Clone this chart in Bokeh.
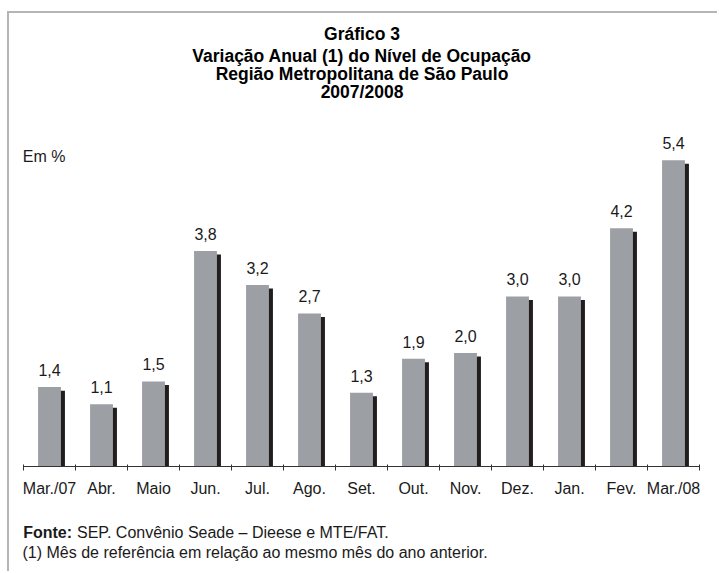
from bokeh.plotting import figure
from bokeh.layouts import column
from bokeh.models import Range1d, LinearAxis, FixedTicker, Label, ColumnDataSource
from bokeh.transform import dodge
from bokeh.embed import file_html
from bokeh.resources import INLINE
from bokeh.core.properties import value

# ---- data ----
categories = ["Mar./07", "Abr.", "Maio", "Jun.", "Jul.", "Ago.", "Set.",
              "Out.", "Nov.", "Dez.", "Jan.", "Fev.", "Mar./08"]
values = [1.4, 1.1, 1.5, 3.8, 3.2, 2.7, 1.3, 1.9, 2.0, 3.0, 3.0, 4.2, 5.4]
value_labels = [f"{v:.1f}".replace(".", ",") for v in values]

title_lines = ["Gráfico 3",
               "Variação Anual (1) do Nível de Ocupação",
               "Região Metropolitana de São Paulo",
               "2007/2008"]
unit_label = "Em %"
source_head = "Fonte:"
source_text = "SEP. Convênio Seade – Dieese e MTE/FAT."
note_text = "(1) Mês de referência em relação ao mesmo mês do ano anterior."

# ---- styling ----
FONT = "Liberation Sans"
TXT = "#1a1a1a"
BAR = "#9ca0a5"
SHADOW = "#221e1f"
W = 708

positions = [i + 0.5 for i in range(len(categories))]
boundaries = list(range(len(categories) + 1))

src = ColumnDataSource(dict(x=positions, top=values, label=value_labels))

p = figure(width=W, height=492, output_backend="svg", toolbar_location=None,
           x_range=Range1d(-0.2692, (W - 14) / 52), y_range=Range1d(0, 7.989),
           x_axis_location=None, y_axis_location=None,
           min_border_left=0, min_border_right=0, min_border_top=0,
           min_border_bottom=39)
p.grid.visible = False
p.outline_line_color = None
p.background_fill_color = "white"
p.border_fill_color = "white"

# shadow bars
p.vbar(x=dodge("x", 0.077), top=dodge("top", -0.062), bottom=0, width=0.44,
       source=src, fill_color=SHADOW, line_color=None)
# main bars
p.vbar(x="x", top="top", bottom=0, width=0.44, source=src,
       fill_color=BAR, line_color=None)

p.text(x="x", y="top", text="label", source=src, y_offset=-17,
       text_align="center", text_baseline="alphabetic",
       text_font=value(FONT), text_font_size="16px", text_color=TXT)

ax = LinearAxis(ticker=FixedTicker(ticks=positions, minor_ticks=boundaries),
                major_label_overrides={pos: cat for pos, cat in zip(positions, categories)},
                bounds=(0, len(categories)))
ax.major_tick_in = 0
ax.major_tick_out = 0
ax.minor_tick_in = 2
ax.minor_tick_out = 4
ax.minor_tick_line_color = "#333333"
ax.axis_line_color = "#333333"
ax.major_label_standoff = 9
ax.major_label_text_font = FONT
ax.major_label_text_font_size = "16px"
ax.major_label_text_color = TXT
p.add_layout(ax, "below")

# titles (screen units: x from frame left, y up from the frame bottom)
title_baselines = [33, 55, 73.5, 91.5]
for line, yb in zip(title_lines, title_baselines):
    p.add_layout(Label(x=352.5, y=466 - yb, x_units="screen", y_units="screen",
                       text=line, text_align="center", text_baseline="alphabetic",
                       text_font=FONT, text_font_size="17.5px", text_font_style="bold",
                       text_color="black"))

p.add_layout(Label(x=13.3, y=466 - 155.5, x_units="screen", y_units="screen",
                   text=unit_label, text_baseline="alphabetic",
                   text_font=FONT, text_font_size="16px", text_color=TXT))

# footer figure
FH = 66
f = figure(width=W, height=FH, output_backend="svg", toolbar_location=None,
           x_range=Range1d(0, 1), y_range=Range1d(0, 1),
           x_axis_location=None, y_axis_location=None,
           min_border=0)
f.grid.visible = False
f.outline_line_color = None
f.border_fill_color = "white"
f.add_layout(Label(x=13.7, y=39, x_units="screen", y_units="screen",
                   text=source_head, text_baseline="alphabetic",
                   text_font=FONT, text_font_size="16px", text_font_style="bold",
                   text_color=TXT))
f.add_layout(Label(x=67.5, y=39, x_units="screen", y_units="screen",
                   text=source_text, text_baseline="alphabetic",
                   text_font=FONT, text_font_size="16px", text_color=TXT))
f.add_layout(Label(x=13, y=19, x_units="screen", y_units="screen",
                   text=note_text, text_baseline="alphabetic",
                   text_font=FONT, text_font_size="16px", text_color=TXT))

layout = column(p, f, spacing=0,
                styles={"border-left": "2px solid #b5b5b5",
                        "border-top": "2px solid #b5b5b5",
                        "margin-left": "7px", "margin-top": "11px"})

open("out.html", "w").write(file_html(layout, INLINE))
